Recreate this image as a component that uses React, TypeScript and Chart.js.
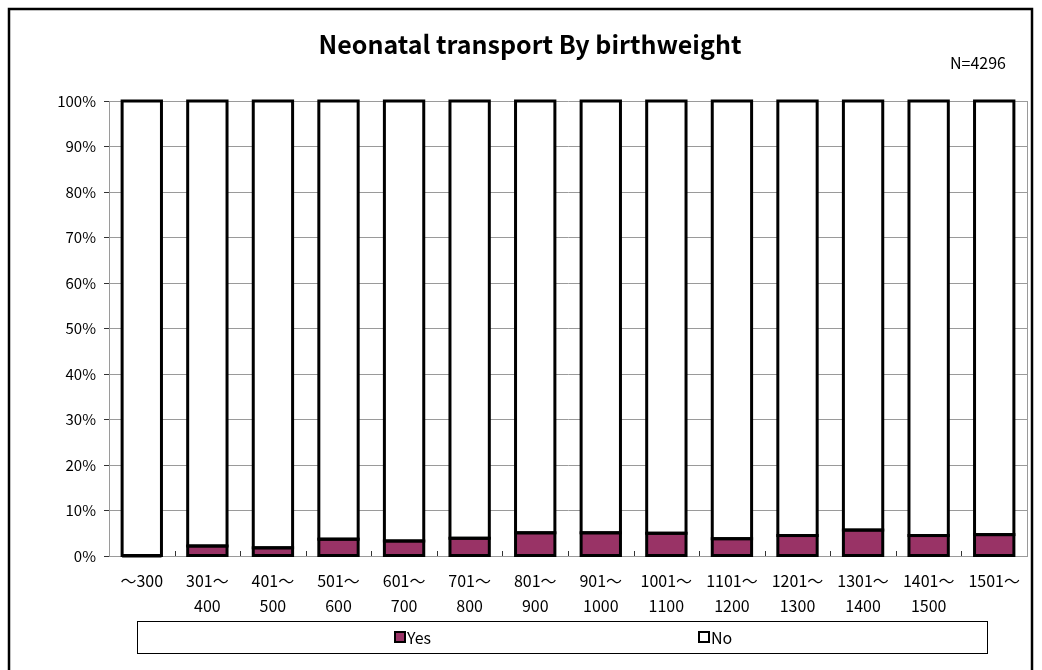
import React, { useEffect, useRef } from "react";
import { Chart, registerables } from "chart.js";

Chart.register(...registerables);

const categories: string[][] = [
  ["～300"],
  ["301～", "400"],
  ["401～", "500"],
  ["501～", "600"],
  ["601～", "700"],
  ["701～", "800"],
  ["801～", "900"],
  ["901～", "1000"],
  ["1001～", "1100"],
  ["1101～", "1200"],
  ["1201～", "1300"],
  ["1301～", "1400"],
  ["1401～", "1500"],
  ["1501～"],
];
const yesValues = [0, 2.2, 1.8, 3.7, 3.3, 3.9, 5.1, 5.1, 5.0, 3.8, 4.5, 5.7, 4.5, 4.7];
const noValues = yesValues.map((v) => 100 - v);
const seriesNames = ["Yes", "No"];
const titleText = "Neonatal transport By birthweight";
const nText = "N=4296";

const FONT = "'Noto Sans CJK JP', 'Noto Sans', sans-serif";
const YES_COLOR = "#993366";

const decorPlugin = {
  id: "decor",
  beforeDraw(chart: any) {
    const ctx = chart.ctx;
    ctx.save();
    ctx.fillStyle = "#fff";
    ctx.fillRect(0, 0, chart.width, chart.height);
    ctx.restore();
  },
  beforeDatasetsDraw(chart: any) {
    const ctx = chart.ctx;
    const ca = chart.chartArea;
    ctx.save();
    ctx.strokeStyle = "#9a9a9a";
    ctx.lineWidth = 1;
    ctx.beginPath();
    ctx.moveTo(ca.right + 0.5, ca.top);
    ctx.lineTo(ca.right + 0.5, ca.bottom);
    ctx.stroke();
    ctx.restore();
  },
  afterDatasetsDraw(chart: any) {
    const ctx = chart.ctx;
    ctx.save();
    ctx.strokeStyle = "#000";
    ctx.lineWidth = 3;
    chart.data.datasets.forEach((_: any, di: number) => {
      const meta = chart.getDatasetMeta(di);
      meta.data.forEach((bar: any) => {
        const p = bar.getProps(["x", "y", "base", "width"], true);
        const left = p.x - p.width / 2;
        const top = Math.min(p.y, p.base);
        const h = Math.abs(p.base - p.y);
        ctx.strokeRect(left, top, p.width, h);
      });
    });
    ctx.restore();
  },
  afterDraw(chart: any) {
    const ctx = chart.ctx;
    const ca = chart.chartArea;
    ctx.save();
    // outer frame
    ctx.strokeStyle = "#000";
    ctx.lineWidth = 2.5;
    ctx.strokeRect(9, 9, 1023, 700);
    // title
    ctx.fillStyle = "#000";
    ctx.textAlign = "center";
    ctx.textBaseline = "middle";
    ctx.font = `bold 25px ${FONT}`;
    ctx.fillText(titleText, 530, 44);
    ctx.font = `16px ${FONT}`;
    ctx.fillText(nText, 978, 63);
    // x-axis inner ticks at category boundaries
    ctx.strokeStyle = "#333";
    ctx.lineWidth = 1;
    const n = categories.length;
    const w = (ca.right - ca.left) / n;
    for (let i = 1; i < n; i++) {
      const x = Math.round(ca.left + w * i) + 0.5;
      ctx.beginPath();
      ctx.moveTo(x, ca.bottom);
      ctx.lineTo(x, ca.bottom - 5);
      ctx.stroke();
    }
    // legend box
    ctx.strokeStyle = "#000";
    ctx.lineWidth = 1;
    ctx.strokeRect(137.5, 621.5, 850, 32);
    const items = [
      { label: seriesNames[0], x: 395, color: YES_COLOR },
      { label: seriesNames[1], x: 699, color: "#fff" },
    ];
    ctx.textAlign = "left";
    ctx.font = `16px ${FONT}`;
    for (const it of items) {
      ctx.fillStyle = it.color;
      ctx.fillRect(it.x, 632, 10, 10);
      ctx.strokeStyle = "#000";
      ctx.lineWidth = 2;
      ctx.strokeRect(it.x, 632, 10, 10);
      ctx.fillStyle = "#000";
      ctx.fillText(it.label, it.x + 12, 638);
    }
    ctx.restore();
  },
};

export default function App() {
  const ref = useRef<HTMLCanvasElement | null>(null);
  useEffect(() => {
    document.body.style.margin = "0";
    document.body.style.overflow = "hidden";
    const canvas = ref.current!;
    const chart = new Chart(canvas, {
      type: "bar",
      data: {
        labels: categories as any,
        datasets: [
          {
            label: seriesNames[0],
            data: yesValues,
            backgroundColor: YES_COLOR,
            borderWidth: 0,
            barPercentage: 0.6,
            categoryPercentage: 1,
          },
          {
            label: seriesNames[1],
            data: noValues,
            backgroundColor: "#fff",
            borderWidth: 0,
            barPercentage: 0.6,
            categoryPercentage: 1,
          },
        ],
      },
      options: {
        responsive: false,
        animation: false,
        devicePixelRatio: 1,
        layout: { padding: { left: 0, right: 15, top: 101, bottom: 0 } },
        plugins: {
          legend: { display: false },
          title: { display: false },
          tooltip: { enabled: false },
        },
        scales: {
          x: {
            stacked: true,
            afterFit: (s: any) => {
              s.height = 114;
            },
            grid: { display: false, drawTicks: false },
            border: { display: true, color: "#9a9a9a", width: 1 },
            ticks: {
              color: "#000",
              font: { family: FONT, size: 16, lineHeight: 1.6 },
              padding: 12,
              maxRotation: 0,
              autoSkip: false,
            },
          },
          y: {
            stacked: true,
            min: 0,
            max: 100,
            afterFit: (s: any) => {
              s.width = 109;
            },
            grid: {
              color: "#9a9a9a",
              lineWidth: 1,
              tickLength: 5,
              tickColor: "#333",
            },
            border: { display: true, color: "#9a9a9a", width: 1 },
            ticks: {
              stepSize: 10,
              color: "#000",
              font: { family: FONT, size: 15 },
              padding: 8,
              callback: (v: any) => v + "%",
            },
          },
        },
      },
      plugins: [decorPlugin],
    });
    return () => chart.destroy();
  }, []);
  return <canvas ref={ref} width={1042} height={670} style={{ display: "block", width: 1042, height: 670 }} />;
}
